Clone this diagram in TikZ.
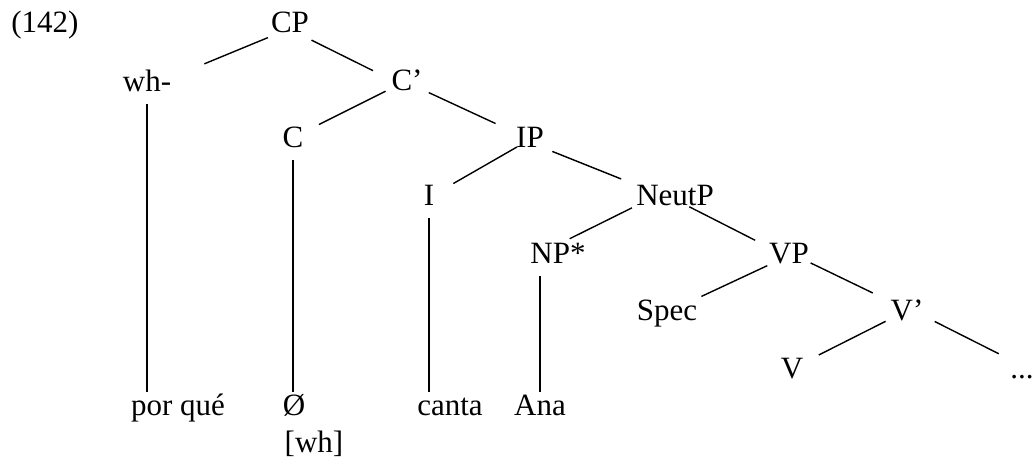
\documentclass[tikz,border=0pt]{standalone}
\usepackage{fontspec}
\setmainfont{Liberation Serif}
\tikzset{
  cat/.style={anchor=base,inner sep=0pt,text height=21pt,text depth=6pt,font=\fontsize{31}{37}\selectfont},
  branch/.style={line width=1.4pt,shorten <=24pt,shorten >=38pt},
  stem/.style={line width=1.4pt,shorten <=7pt,shorten >=2pt}
}

\begin{document}
\begin{tikzpicture}[x=1pt,y=-1pt]
  \useasboundingbox (0,0) rectangle (1033,461);
  \node[cat] (num) at (45,32) {(142)};
  \node[cat] (cp) at (290,32) {CP};
  \node[cat] (wh) at (147,91) {wh-};
  \node[cat] (cbar) at (407,90) {C’};
  \node[cat] (c) at (293,147) {C};
  \node[cat] (ip) at (530,147) {IP};
  \node[cat] (i) at (429,205) {I};
  \node[cat] (neut) at (675,205) {NeutP};
  \node[cat] (np) at (558,263) {NP*};
  \node[cat] (vp) at (789,263) {VP};
  \node[cat] (spec) at (667,320) {Spec};
  \node[cat] (vbar) at (907,320) {V’};
  \node[cat] (v) at (792,378) {V};
  \node[cat] (dots) at (1022,378) {...};
  \node[cat] (porque) at (178,415) {por qué};
  \node[cat] (phi) at (294,415) {Ø};
  \node[cat] (canta) at (450,415) {canta};
  \node[cat] (ana) at (540,415) {Ana};
  \node[cat] (feat) at (314,452) {[wh]};

  % branches
  \draw[branch,shorten >=62pt] ([yshift=-4pt]cp.center) -- ([yshift=-4pt]wh.center);
  \draw[branch] ([yshift=-5pt]cp.center) -- ([yshift=-5pt]cbar.center);
  \draw[branch,shorten >=29pt] ([yshift=2pt]cbar.center) -- ([yshift=2pt]c.center);
  \draw[branch] (cbar.center) -- (ip.center);
  \draw[branch,shorten <=15pt,shorten >=28pt] (ip.center) -- (i.center);
  \draw[branch,shorten >=58pt] ([yshift=-3pt]ip.center) -- ([yshift=-3pt]neut.center);
  \draw[branch,shorten <=48pt,shorten >=13pt] ([yshift=11pt]neut.center) -- ([yshift=11pt]np.center);
  \draw[branch,shorten <=16pt] ([yshift=-2pt]neut.center) -- ([yshift=-2pt]vp.center);
  \draw[branch] (vp.center) -- (spec.center);
  \draw[branch] ([yshift=3pt]vp.center) -- ([yshift=3pt]vbar.center);
  \draw[branch,shorten >=30pt] ([yshift=2pt]vbar.center) -- ([yshift=2pt]v.center);
  \draw[branch,shorten <=31pt,shorten >=26pt] ([yshift=5pt]vbar.center) -- ([yshift=5pt]dots.center);
  % stems down to the words
  \draw[stem] (wh.south) -- (wh.south |- porque.north);
  \draw[stem] (c.south) -- (c.south |- phi.north);
  \draw[stem] (i.south) -- (i.south |- canta.north);
  \draw[stem] (np.south -| ana.north) -- (ana.north);
\end{tikzpicture}
\end{document}
